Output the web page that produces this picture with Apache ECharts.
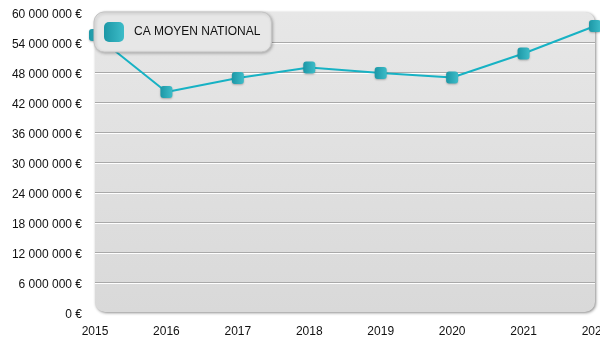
<!DOCTYPE html>
<html>
<head>
<meta charset="utf-8">
<script src="https://cdn.jsdelivr.net/npm/echarts@6/dist/echarts.min.js"></script>
<style>
  html, body { margin: 0; padding: 0; background: #fff; }
  #chart { width: 600px; height: 350px; }
</style>
</head>
<body>
<div id="chart"></div>
<script>
// Average national turnover per year
const years = ['2015', '2016', '2017', '2018', '2019', '2020', '2021', '2022'];
const caMoyen = [55400000, 44000000, 46800000, 48900000, 47800000, 46900000, 51700000, 57200000];
const seriesName = 'CA MOYEN NATIONAL';

const GRID = { left: 95, top: 12, right: 5, bottom: 38 };
const W = 600, H = 350;

function euro(v) {
  return String(Math.round(v)).replace(/\B(?=(\d{3})+(?!\d))/g, ' ') + ' €';
}

// split lines: skip the first and last (they coincide with the panel edges)
const nTicks = 11;
const splitColors = [];
for (let i = 0; i < nTicks; i++) {
  splitColors.push(i === 0 || i === nTicks - 1 ? 'rgba(0,0,0,0)' : '#a9a9a9');
}

const markerFill = new echarts.graphic.LinearGradient(0, 0, 1, 0, [
  { offset: 0, color: '#1c97a6' },
  { offset: 1, color: '#3dbcc8' }
]);

const chart = echarts.init(document.getElementById('chart'), null, { renderer: 'canvas' });
chart.setOption({
  animation: false,
  textStyle: { fontFamily: 'Liberation Sans, Arial, sans-serif' },
  graphic: {
    elements: [{
      type: 'rect',
      z: -10,
      silent: true,
      shape: {
        x: GRID.left,
        y: GRID.top,
        width: W - GRID.left - GRID.right,
        height: H - GRID.top - GRID.bottom,
        r: 10
      },
      style: {
        fill: new echarts.graphic.LinearGradient(0, 0, 0, 1, [
          { offset: 0, color: '#e7e7e7' },
          { offset: 1, color: '#d9d9d9' }
        ]),
        shadowBlur: 3,
        shadowOffsetX: 1,
        shadowOffsetY: 1,
        shadowColor: 'rgba(0,0,0,0.45)'
      }
    }]
  },
  grid: {
    left: GRID.left, top: GRID.top, right: GRID.right, bottom: GRID.bottom,
    containLabel: false,
    outerBoundsMode: 'none'
  },
  legend: {
    left: 94,
    top: 12,
    data: [seriesName],
    icon: 'roundRect',
    itemWidth: 20,
    itemHeight: 20,
    padding: [10, 11, 10, 10],
    backgroundColor: '#e7e7e7',
    borderColor: '#c4c4c4',
    borderWidth: 1,
    borderRadius: 10,
    shadowBlur: 3,
    shadowOffsetX: 1,
    shadowOffsetY: 1,
    shadowColor: 'rgba(0,0,0,0.25)',
    textStyle: { fontSize: 12, color: '#111', padding: [0, 0, 0, 5] }
  },
  xAxis: {
    type: 'category',
    data: years,
    boundaryGap: false,
    axisLine: { show: false },
    axisTick: { show: false },
    axisLabel: { interval: 0, fontSize: 12, color: '#111', margin: 14, hideOverlap: false },
    splitLine: { show: false }
  },
  yAxis: {
    type: 'value',
    min: 0,
    max: 60000000,
    interval: 6000000,
    axisLine: { show: false },
    axisTick: { show: false },
    axisLabel: {
      fontSize: 12, color: '#111', margin: 13,
      verticalAlign: 'top', lineHeight: 5,
      formatter: euro
    },
    splitLine: {
      show: true,
      lineStyle: {
        color: splitColors,
        width: 1,
        shadowColor: '#ffffff',
        shadowOffsetY: 1,
        shadowBlur: 0
      }
    }
  },
  series: [{
    name: seriesName,
    type: 'line',
    data: caMoyen,
    symbol: 'roundRect',
    symbolSize: 12,
    lineStyle: { color: '#17b2c4', width: 2 },
    itemStyle: {
      color: markerFill,
      shadowBlur: 2,
      shadowColor: 'rgba(0,0,0,0.25)',
      shadowOffsetY: 1
    }
  }]
});
</script>
</body>
</html>
